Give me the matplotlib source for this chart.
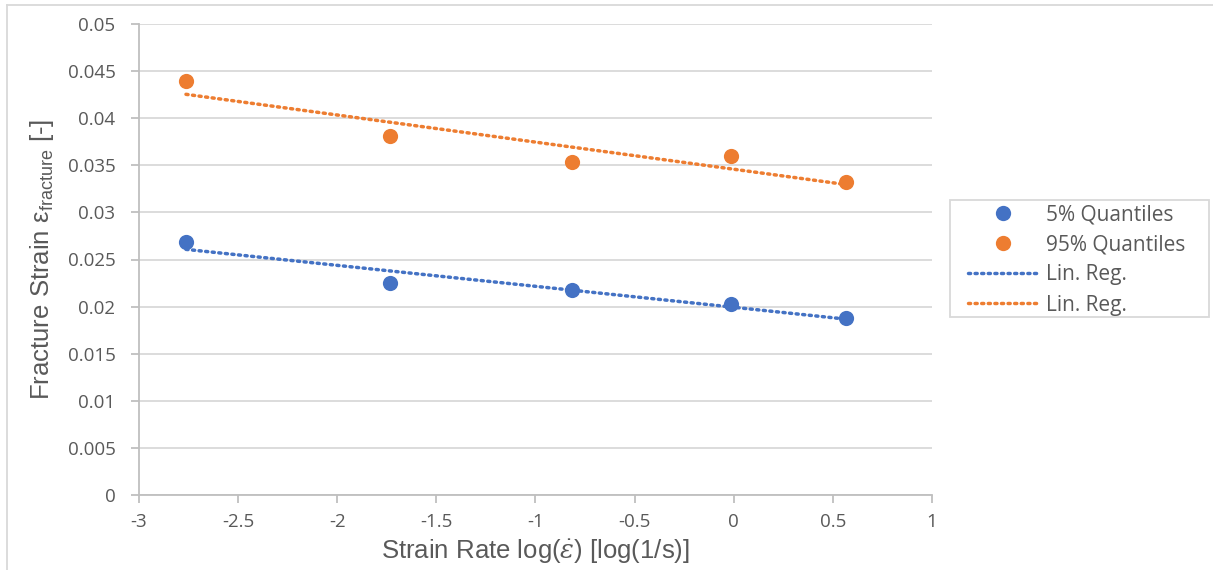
import numpy as np
import matplotlib
matplotlib.use("Agg")
import matplotlib.pyplot as plt
from matplotlib.lines import Line2D
from matplotlib.patches import Rectangle

plt.rcParams["font.family"] = ["Open Sans", "DejaVu Sans"]
plt.rcParams["mathtext.fontset"] = "custom"
plt.rcParams["mathtext.rm"] = "Liberation Sans"
plt.rcParams["mathtext.it"] = "DejaVu Serif:italic"

# strain rate (log 1/s) and fracture strain quantiles
log_rate = [-2.763, -1.734, -0.816, -0.014, 0.566]
q05 = [0.02689, 0.02253, 0.02176, 0.02024, 0.01882]
q95 = [0.04395, 0.03815, 0.03531, 0.03602, 0.03319]

BLUE = "#4472c4"
ORANGE = "#ed7d31"
GRID = "#d9d9d9"
AXIS = "#bfbfbf"
TEXT = "#595959"
DOTS = (0, (0.6, 1.3))

W, H = 1213, 570
fig = plt.figure(figsize=(W / 100, H / 100), dpi=100)
ax = fig.add_axes([139 / W, 1 - 495 / H, (932 - 139) / W, (495 - 24) / H])

x = np.array(log_rate)
xfit = np.array([x.min(), x.max()])
for y, c in [(q05, BLUE), (q95, ORANGE)]:
    k, d = np.polyfit(x, np.array(y), 1)
    ax.plot(xfit, k * xfit + d, color=c, lw=2.5, ls=DOTS,
            dash_capstyle="round", zorder=2)
ax.scatter(x, q05, s=120, color=BLUE, zorder=3, linewidths=0)
ax.scatter(x, q95, s=120, color=ORANGE, zorder=3, linewidths=0)

ax.set_xlim(-3, 1)
ax.set_ylim(0, 0.05)
ax.set_xticks(np.arange(-3, 1.01, 0.5))
ax.set_xticklabels(["-3", "-2.5", "-2", "-1.5", "-1", "-0.5", "0", "0.5", "1"])
ax.set_yticks(np.arange(0, 0.0501, 0.005))
ax.set_yticklabels(["0", "0.005", "0.01", "0.015", "0.02", "0.025", "0.03",
                    "0.035", "0.04", "0.045", "0.05"])
ax.yaxis.grid(True, color=GRID, lw=1.3)
ax.set_axisbelow(True)
for s in ["top", "right"]:
    ax.spines[s].set_visible(False)
for s in ["left", "bottom"]:
    ax.spines[s].set_color(AXIS)
    ax.spines[s].set_linewidth(1.3)
ax.tick_params(colors=TEXT, labelsize=13.5, length=6, width=1.3, color=AXIS)
ax.tick_params(axis="y", pad=11)
ax.tick_params(axis="x", pad=7)

ax.set_xlabel(r"Strain Rate log($\dot{\varepsilon}$) [log(1/s)]", fontsize=18.5,
              color=TEXT, labelpad=4, family="Liberation Sans")
ax.set_ylabel(r"Fracture Strain ε$_{\mathregular{fracture}}$ [-]", fontsize=18.5,
              color=TEXT, labelpad=8, family="Liberation Sans")

handles = [
    Line2D([], [], ls="none", marker="o", ms=11, color=BLUE, mew=0),
    Line2D([], [], ls="none", marker="o", ms=11, color=ORANGE, mew=0),
    Line2D([], [], color=BLUE, lw=2.5, ls=DOTS, dash_capstyle="round"),
    Line2D([], [], color=ORANGE, lw=2.5, ls=DOTS, dash_capstyle="round"),
]
labels = ["5% Quantiles", "95% Quantiles", "Lin. Reg.", "Lin. Reg."]
fig.legend(handles, labels, loc="upper left",
           bbox_to_anchor=(968 / W, 1 - 204 / H), fontsize=15,
           frameon=False, labelcolor=TEXT,
           handlelength=3.4, handletextpad=0.35, labelspacing=0.44,
           borderpad=0, borderaxespad=0)
# legend frame
fig.add_artist(Rectangle((950 / W, 1 - 317 / H), (1209 - 950) / W, (317 - 200) / H,
                         transform=fig.transFigure, fill=False, edgecolor=GRID, lw=1.3))

# chart area border
fig.add_artist(Line2D([7 / W, 7 / W], [0, 1 - 5 / H], color=GRID, lw=1.3))
fig.add_artist(Line2D([7 / W, 1], [1 - 5 / H, 1 - 5 / H], color=GRID, lw=1.3))

fig.savefig("out.png", dpi=100)
